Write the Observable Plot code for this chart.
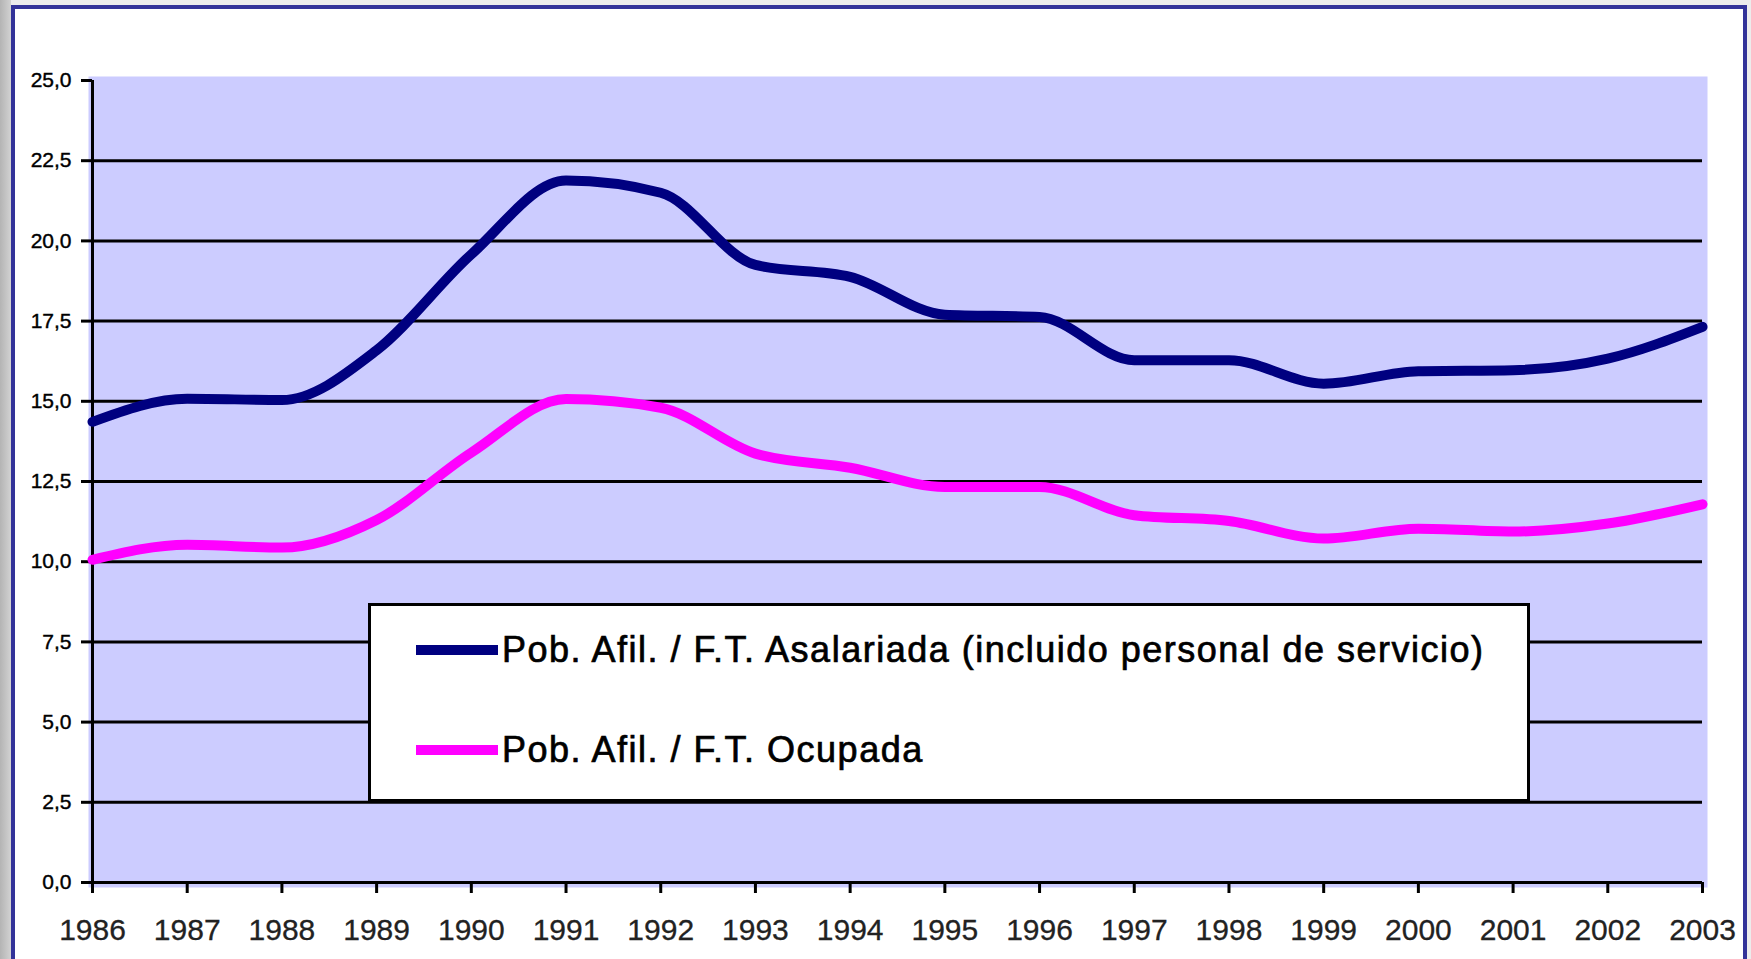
<!DOCTYPE html>
<html>
<head>
<meta charset="utf-8">
<script src="https://cdn.jsdelivr.net/npm/d3@7"></script>
<script src="https://cdn.jsdelivr.net/npm/@observablehq/plot@0.6"></script>
<style>
html, body { margin: 0; padding: 0; background: #ececec; }
#wrap { position: relative; width: 1751px; height: 959px; overflow: hidden; background: #ececec; font-family: "Liberation Sans", Arial, sans-serif; }
#strip { position: absolute; left: 0; top: 0; width: 11px; height: 959px; background: linear-gradient(to right, #b4b4b4, #d2d2d2); }
#frame { position: absolute; left: 11px; top: 5px; width: 1736px; height: 1000px; box-sizing: border-box; border: 4px solid #333399; background: #fff; }
#chart { position: absolute; left: 0; top: 0; }
#chart svg g[aria-label="y-axis tick label"] text { stroke: #000; stroke-width: 0.4px; }
#chart svg g[aria-label="x-axis tick label"] text { stroke: #222; stroke-width: 0.3px; fill: #222; }
#legend { position: absolute; left: 368px; top: 603px; width: 1162px; height: 199px; box-sizing: border-box; border: 3px solid #000; background: #fff; }
.swatch { position: absolute; left: 45px; width: 82px; height: 10px; }
.ltext { position: absolute; left: 131px; font-size: 36px; line-height: 40px; letter-spacing: 1.5px; color: #000; white-space: nowrap; -webkit-text-stroke: 0.7px #000; }
</style>
</head>
<body>
<div id="wrap">
  <div id="strip"></div>
  <div id="frame"></div>
  <div id="chart"></div>
  <div id="legend"></div>
</div>
<script>
const years = [1986, 1987, 1988, 1989, 1990, 1991, 1992, 1993, 1994, 1995, 1996, 1997, 1998, 1999, 2000, 2001, 2002, 2003];
const asalariada = [14.36, 15.08, 15.04, 16.59, 19.58, 21.88, 21.5, 19.25, 18.88, 17.70, 17.63, 16.28, 16.28, 15.55, 15.94, 15.97, 16.33, 17.32];
const ocupada = [10.06, 10.53, 10.44, 11.30, 13.40, 15.07, 14.8, 13.37, 12.93, 12.33, 12.33, 11.45, 11.27, 10.72, 11.03, 10.94, 11.19, 11.79];
const yTicks = [0, 2.5, 5, 7.5, 10, 12.5, 15, 17.5, 20, 22.5, 25];
const seriesNames = ["Pob. Afil. / F.T. Asalariada (incluido personal de servicio)", "Pob. Afil. / F.T. Ocupada"];
const seriesColors = ["#000080", "#ff00ff"];

const table = years.map((y, i) => ({year: y, a: asalariada[i], o: ocupada[i]}));
const fmt = d => d.toFixed(1).replace(".", ",");

const chart = Plot.plot({
  width: 1751,
  height: 959,
  marginLeft: 92,
  marginRight: 49,
  marginTop: 80,
  marginBottom: 77,
  style: {background: "transparent", fontFamily: "'Liberation Sans', Arial, sans-serif", color: "#000", overflow: "visible"},
  x: {type: "linear", domain: [1986, 2003]},
  y: {domain: [0, 25]},
  marks: [
    Plot.frame({fill: "#ccccff", stroke: null, insetLeft: -4, insetTop: -4, insetRight: -5, insetBottom: -5}),
    Plot.ruleY(yTicks.filter(d => d < 25), {x1: 1986, x2: 2003, stroke: "#000", strokeWidth: 3}),
    Plot.ruleX([1986], {y1: 0, y2: 25, stroke: "#000", strokeWidth: 3}),
    Plot.axisY({ticks: yTicks, tickSize: 11, tickPadding: 10, tickFormat: fmt, fontSize: 21, stroke: "#000", strokeWidth: 3, label: null}),
    Plot.axisX({ticks: years, tickSize: 11, tickPadding: 25, tickFormat: d => String(d), fontSize: 30, stroke: "#000", strokeWidth: 3, label: null}),
    Plot.line(table, {x: "year", y: "o", stroke: seriesColors[1], strokeWidth: 10, curve: "monotone-x", strokeLinejoin: "round"}),
    Plot.line(table, {x: "year", y: "a", stroke: seriesColors[0], strokeWidth: 10, curve: "monotone-x", strokeLinejoin: "round"})
  ]
});
document.getElementById("chart").appendChild(chart);

const legend = document.getElementById("legend");
const centers = [44, 144];
seriesNames.forEach((name, i) => {
  const sw = document.createElement("div");
  sw.className = "swatch";
  sw.style.top = (centers[i] - 5) + "px";
  sw.style.background = seriesColors[i];
  legend.appendChild(sw);
  const t = document.createElement("div");
  t.className = "ltext";
  t.style.top = (centers[i] - 20) + "px";
  t.textContent = name;
  legend.appendChild(t);
});
</script>
</body>
</html>
